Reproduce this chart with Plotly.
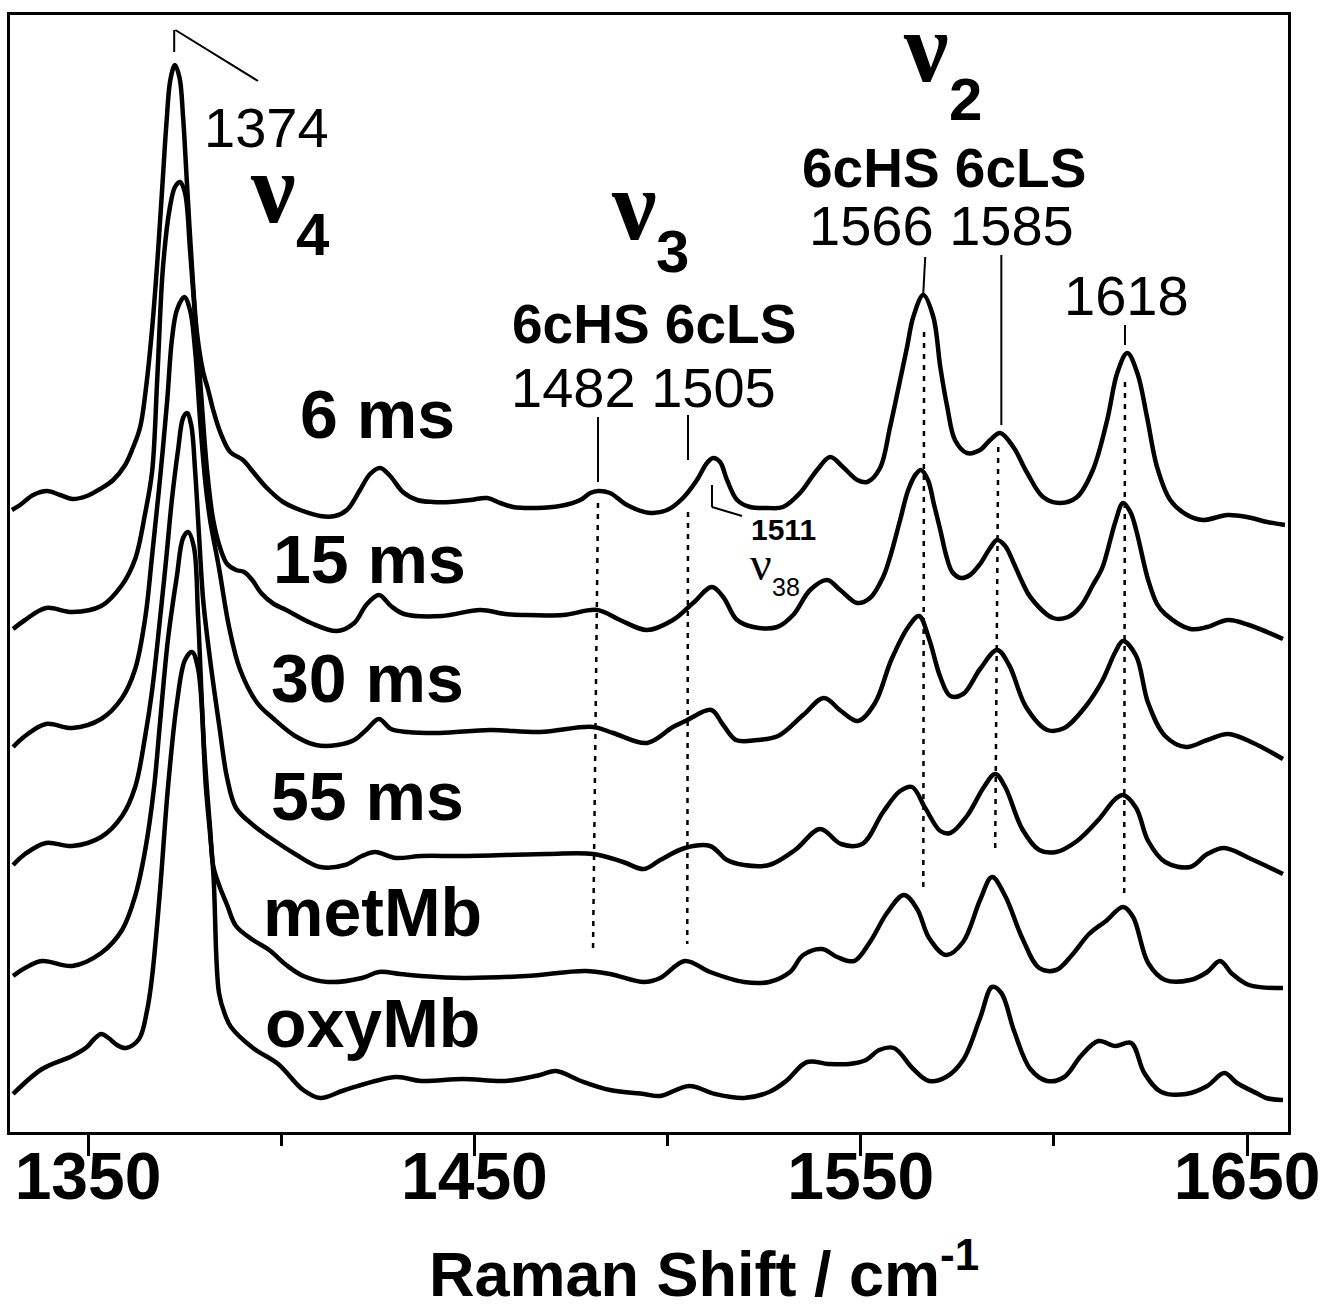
import plotly.graph_objects as go

# ---------------- data (Raman shift in cm-1, stacked intensity in arbitrary units) ----------------
wn_6ms = [1330.3, 1332.4, 1335.8, 1339.4, 1342.8, 1345.9, 1349.7, 1353.1, 1356.5, 1359.6, 1361.6, 1363.5,
          1365.0, 1366.6, 1368.0, 1369.2, 1370.3, 1371.3, 1372.5, 1373.7, 1374.6, 1375.6, 1376.9, 1378.2,
          1379.8, 1381.1, 1382.4, 1384.2, 1386.8, 1390.1, 1391.9, 1393.8, 1396.3, 1400.5, 1404.9, 1410.1,
          1413.9, 1417.0, 1420.4, 1423.0, 1425.6, 1428.2, 1431.5, 1435.2, 1439.3, 1443.7, 1448.9, 1453.3,
          1456.7, 1460.0, 1466.2, 1472.2, 1477.4, 1480.0, 1482.0, 1485.1, 1489.5, 1495.5, 1499.9, 1504.0,
          1507.6, 1510.2, 1511.8, 1513.6, 1515.4, 1518.0, 1521.4, 1525.8, 1529.9, 1534.3, 1538.7, 1542.1,
          1545.4, 1549.1, 1551.7, 1555.0, 1557.6, 1560.2, 1562.0, 1563.6, 1566.2, 1568.8, 1570.6, 1572.4,
          1574.4, 1577.5, 1580.9, 1583.5, 1586.1, 1589.5, 1593.1, 1597.2, 1601.6, 1606.0, 1610.1, 1613.8,
          1616.4, 1619.0, 1621.6, 1624.1, 1626.7, 1630.1, 1634.5, 1638.6, 1644.9, 1650.0, 1655.2, 1659.8]
int_6ms = [628, 633, 643, 647, 643, 639, 642, 649, 658, 673, 690, 711,
           750, 810, 880, 950, 1015, 1058, 1073, 1060, 1021, 955, 871, 805,
           766, 748, 728, 706, 686, 678, 670, 661, 650, 636, 628, 622,
           622, 628, 648, 664, 670, 662, 646, 638, 636, 636, 638, 640,
           635, 631, 630, 632, 638, 645, 647, 645, 633, 625, 628, 640,
           658, 675, 680, 676, 658, 638, 631, 630, 631, 645, 668, 681,
           671, 658, 656, 670, 711, 758, 791, 821, 843, 821, 771, 731,
           698, 685, 688, 698, 705, 691, 665, 641, 635, 641, 668, 718,
           765, 785, 765, 721, 671, 638, 623, 618, 623, 621, 616, 613]

wn_15ms = [1330.6, 1333.7, 1339.1, 1345.9, 1353.4, 1358.8, 1362.2, 1364.8, 1366.6, 1367.9, 1369.4, 1371.2,
           1372.5, 1373.8, 1375.1, 1376.4, 1377.7, 1379.0, 1380.8, 1382.4, 1384.2, 1386.0, 1388.3, 1390.4,
           1392.5, 1394.8, 1398.1, 1401.3, 1407.7, 1414.5, 1418.9, 1422.0, 1425.3, 1428.4, 1431.8, 1441.6,
           1451.5, 1458.0, 1462.6, 1473.0, 1481.8, 1487.7, 1494.7, 1501.4, 1506.6, 1511.5, 1514.4, 1518.0,
           1522.2, 1528.4, 1532.5, 1536.9, 1541.3, 1544.7, 1549.1, 1552.4, 1555.8, 1557.6, 1560.2, 1562.3,
           1564.3, 1565.6, 1567.4, 1569.0, 1570.6, 1572.1, 1573.7, 1576.0, 1578.3, 1580.9, 1583.5, 1585.3,
           1587.4, 1589.7, 1591.8, 1593.9, 1599.8, 1603.7, 1607.0, 1610.1, 1612.5, 1614.6, 1615.9, 1617.9,
           1619.8, 1621.3, 1624.4, 1626.7, 1628.8, 1635.3, 1639.7, 1645.1, 1650.5, 1659.3]
int_15ms = [509, 518, 530, 526, 532, 553, 579, 625, 667, 758, 871, 931,
            951, 956, 945, 888, 821, 758, 668, 618, 590, 574, 568, 566,
            558, 545, 534, 528, 515, 507, 515, 533, 543, 532, 524, 522,
            528, 524, 523, 523, 528, 518, 508, 518, 535, 551, 541, 518,
            511, 511, 523, 548, 558, 548, 535, 540, 561, 581, 618, 648,
            664, 668, 658, 633, 608, 583, 566, 560, 563, 574, 590, 598,
            592, 574, 556, 541, 520, 521, 532, 553, 570, 598, 616, 635,
            626, 608, 558, 534, 524, 509, 511, 518, 513, 499]

wn_30ms = [1330.6, 1333.7, 1339.1, 1345.9, 1353.4, 1358.8, 1362.2, 1364.8, 1366.6, 1368.6, 1370.5, 1371.7,
           1373.0, 1374.9, 1376.4, 1377.7, 1379.0, 1380.3, 1381.6, 1383.9, 1386.5, 1389.3, 1393.8, 1398.1,
           1403.6, 1409.0, 1414.5, 1418.9, 1422.0, 1425.3, 1428.4, 1432.8, 1441.1, 1454.1, 1467.0, 1480.7,
           1485.9, 1494.7, 1501.4, 1505.1, 1511.3, 1514.4, 1517.7, 1523.2, 1528.6, 1535.1, 1540.5, 1544.9,
           1549.3, 1553.7, 1557.9, 1562.3, 1565.1, 1567.7, 1570.6, 1573.2, 1576.5, 1580.9, 1585.3, 1588.4,
           1592.8, 1598.3, 1602.7, 1608.1, 1612.5, 1615.9, 1617.9, 1621.3, 1624.4, 1628.8, 1634.2, 1639.7,
           1645.1, 1651.6, 1659.3]
int_30ms = [391, 402, 414, 410, 419, 440, 469, 520, 583, 658, 738, 798,
            828, 841, 828, 788, 718, 658, 618, 570, 511, 469, 435, 419,
            402, 393, 393, 398, 408, 419, 409, 406, 405, 408, 406, 411,
            405, 395, 411, 418, 428, 413, 398, 398, 402, 423, 440, 427,
            417, 435, 478, 511, 522, 499, 461, 442, 444, 469, 488, 473,
            431, 408, 410, 431, 457, 486, 497, 482, 435, 402, 391, 398,
            404, 395, 379]

wn_55ms = [1330.6, 1333.7, 1339.1, 1345.9, 1353.4, 1358.8, 1362.2, 1364.8, 1366.6, 1368.6, 1370.2, 1371.7,
           1373.3, 1374.6, 1375.6, 1376.7, 1377.7, 1378.8, 1379.8, 1381.6, 1383.9, 1386.0, 1388.3, 1392.7,
           1396.9, 1403.6, 1410.1, 1416.5, 1420.9, 1424.3, 1429.7, 1436.2, 1447.1, 1468.8, 1480.7, 1488.5,
           1493.9, 1498.1, 1504.5, 1511.0, 1515.4, 1519.8, 1526.3, 1533.0, 1539.5, 1544.9, 1550.4, 1555.8,
           1560.2, 1563.3, 1566.7, 1570.6, 1573.2, 1577.5, 1581.9, 1584.8, 1587.4, 1591.8, 1596.2, 1600.6,
           1606.0, 1611.5, 1615.9, 1617.9, 1621.3, 1624.4, 1628.8, 1635.3, 1639.7, 1644.1, 1650.5, 1659.3]
int_55ms = [273, 284, 295, 292, 301, 322, 351, 402, 448, 518, 578, 638,
            688, 720, 725, 713, 668, 598, 538, 478, 414, 360, 330, 313,
            301, 284, 271, 273, 282, 286, 280, 282, 282, 284, 284, 276,
            269, 278, 290, 292, 278, 273, 273, 288, 309, 294, 294, 326,
            347, 351, 330, 307, 305, 322, 351, 364, 351, 309, 288, 286,
            297, 318, 339, 343, 330, 297, 276, 271, 284, 290, 280, 264]

wn_met = [1330.6, 1333.7, 1338.1, 1345.9, 1353.4, 1358.8, 1362.2, 1364.8, 1367.1, 1368.6, 1370.7, 1373.0,
          1374.6, 1375.9, 1377.4, 1378.5, 1380.0, 1381.6, 1382.4, 1383.9, 1386.0, 1388.3, 1392.7, 1396.9,
          1401.3, 1405.7, 1412.1, 1420.9, 1425.3, 1430.8, 1436.2, 1447.1, 1463.4, 1478.7, 1485.1, 1493.9,
          1498.1, 1504.5, 1511.0, 1519.8, 1526.3, 1531.7, 1535.1, 1540.0, 1543.9, 1548.3, 1552.4, 1556.8,
          1561.2, 1564.6, 1567.7, 1572.1, 1576.5, 1580.9, 1584.0, 1587.4, 1591.8, 1596.2, 1600.6, 1604.7,
          1609.1, 1613.5, 1617.9, 1620.5, 1624.4, 1628.8, 1635.3, 1639.7, 1643.0, 1646.2, 1650.5, 1659.3]
int_met = [162, 170, 177, 172, 185, 208, 242, 288, 351, 414, 499, 562,
           600, 606, 591, 520, 393, 309, 272, 253, 233, 212, 198, 188,
           173, 162, 156, 160, 166, 164, 162, 160, 162, 167, 164, 156,
           160, 177, 166, 156, 156, 166, 183, 189, 181, 177, 196, 225,
           243, 229, 200, 183, 196, 238, 261, 242, 200, 170, 168, 183,
           204, 217, 231, 221, 175, 158, 158, 166, 177, 164, 153, 150]

wn_oxy = [1330.6, 1338.1, 1345.9, 1349.7, 1351.6, 1353.4, 1355.3, 1357.5, 1359.8, 1363.2, 1365.3, 1366.6,
          1368.6, 1370.7, 1373.0, 1375.1, 1376.9, 1378.5, 1380.5, 1382.4, 1383.9, 1385.5, 1387.0, 1392.7,
          1399.2, 1405.7, 1410.1, 1416.5, 1429.7, 1436.2, 1447.1, 1458.0, 1467.0, 1471.1, 1477.6, 1485.1,
          1493.9, 1498.1, 1505.6, 1512.3, 1519.8, 1526.3, 1530.7, 1536.1, 1541.6, 1547.0, 1551.4, 1554.8,
          1558.6, 1563.6, 1567.7, 1572.1, 1576.5, 1580.9, 1584.0, 1586.4, 1589.7, 1593.9, 1598.3, 1602.7,
          1607.0, 1611.5, 1615.9, 1620.0, 1623.4, 1627.8, 1634.2, 1639.7, 1644.1, 1647.4, 1652.9, 1654.9,
          1659.3]
int_oxy = [44, 69, 82, 91, 99, 104, 100, 93, 90, 99, 128, 162,
           246, 351, 435, 478, 486, 469, 351, 267, 145, 123, 111, 90,
           74, 48, 40, 48, 61, 57, 59, 57, 63, 67, 57, 48,
           44, 42, 52, 44, 40, 46, 57, 76, 74, 74, 78, 88,
           90, 69, 57, 61, 78, 120, 151, 145, 107, 69, 57, 61,
           82, 97, 92, 95, 65, 46, 44, 52, 65, 55, 44, 40,
           38]

# sample labels
sample_names = ["6 ms", "15 ms", "30 ms", "55 ms", "metMb", "oxyMb"]
sample_label_wn = [1404.4, 1397.4, 1396.9, 1396.9, 1394.8, 1395.3]
sample_label_int = [724, 579, 460, 342, 226, 115]

# x-axis ticks
major_ticks = [1350, 1450, 1550, 1650]
minor_ticks = [1400, 1500, 1600]
axis_title = "<b>Raman Shift / cm<sup>-1</sup></b>"

# band annotations
band_numbers = ["1374", "1482 1505", "1566 1585", "1618"]
band_number_wn = [1396.1, 1493.9, 1570.8, 1618.7]
band_number_int = [1011, 751, 913, 843]

spin_labels = ["6cHS 6cLS", "6cHS 6cLS"]
spin_label_wn = [1496.5, 1571.6]
spin_label_int = [814, 970]

mode_subscripts = ["4", "3", "2"]
mode_nu_wn = [1397.9, 1491.4, 1566.9]
mode_nu_int = [950, 933, 1091]
mode_sub_wn = [1408.2, 1501.4, 1577.0]
mode_sub_int = [904, 887, 1039]

# dotted guide lines: (wn_top, int_top, wn_bottom, int_bottom)
dotted_guides = [(1482.0, 635, 1480.7, 185),
                 (1505.3, 626, 1505.1, 194),
                 (1566.4, 806, 1566.2, 245),
                 (1585.6, 691, 1584.8, 285),
                 (1618.4, 756, 1618.2, 245)]

# solid label leader lines
leader_lines = [(1372.3, 1108, 1372.3, 1086),
                (1372.6, 1108, 1394.0, 1057),
                (1482.0, 721, 1482.0, 656),
                (1505.3, 723, 1505.3, 678),
                (1566.7, 881, 1566.2, 845),
                (1586.4, 883, 1586.4, 713),
                (1618.4, 813, 1618.4, 793),
                (1511.5, 653, 1511.5, 631),
                (1511.5, 631, 1519.3, 622)]

# ---------------- figure ----------------
SANS = "Liberation Sans, Arial, Helvetica, sans-serif"
SERIF = "Liberation Serif, Times New Roman, serif"

series = [(wn_6ms, int_6ms), (wn_15ms, int_15ms), (wn_30ms, int_30ms),
          (wn_55ms, int_55ms), (wn_met, int_met), (wn_oxy, int_oxy)]

fig = go.Figure()
for name, (x, y) in zip(sample_names, series):
    fig.add_trace(go.Scatter(x=x, y=y, mode="lines", name=name,
                             line=dict(color="black", width=4.5, shape="spline", smoothing=1.0),
                             showlegend=False, hoverinfo="skip"))

shapes = []
for x0, y0, x1, y1 in dotted_guides:
    shapes.append(dict(type="line", xref="x", yref="y", x0=x0, y0=y0, x1=x1, y1=y1,
                       line=dict(color="black", width=2.5, dash="5px,6px")))
for x0, y0, x1, y1 in leader_lines:
    shapes.append(dict(type="line", xref="x", yref="y", x0=x0, y0=y0, x1=x1, y1=y1,
                       line=dict(color="black", width=2)))

ann = []
for t, x, y in zip(sample_names, sample_label_wn, sample_label_int):
    ann.append(dict(x=x, y=y, text="<b>%s</b>" % t, xanchor="left", yanchor="middle",
                    font=dict(family=SANS, size=68, color="black")))
for t, x, y in zip(band_numbers, band_number_wn, band_number_int):
    ann.append(dict(x=x, y=y, text=t, xanchor="center", yanchor="middle",
                    font=dict(family=SANS, size=56, color="black")))
for t, x, y in zip(spin_labels, spin_label_wn, spin_label_int):
    ann.append(dict(x=x, y=y, text="<b>%s</b>" % t, xanchor="center", yanchor="middle",
                    font=dict(family=SANS, size=55, color="black")))
for s, xn, yn, xs, ys in zip(mode_subscripts, mode_nu_wn, mode_nu_int, mode_sub_wn, mode_sub_int):
    ann.append(dict(x=xn, y=yn, text="<b>ν</b>", xanchor="center", yanchor="middle",
                    font=dict(family=SERIF, size=100, color="black")))
    ann.append(dict(x=xs, y=ys, text="<b>%s</b>" % s, xanchor="center", yanchor="middle",
                    font=dict(family=SANS, size=60, color="black")))
# nu38 band
ann.append(dict(x=1529.9, y=609, text="<b>1511</b>", xanchor="center", yanchor="middle",
                font=dict(family=SANS, size=30, color="black")))
ann.append(dict(x=1524.2, y=575, text="ν", xanchor="center", yanchor="middle",
                font=dict(family=SERIF, size=48, color="black")))
ann.append(dict(x=1530.6, y=551, text="38", xanchor="center", yanchor="middle",
                font=dict(family=SANS, size=25, color="black")))
for a in ann:
    a.update(xref="x", yref="y", showarrow=False)
# axis title placed as paper annotation (it sits right of the plot centre in the original)
ann.append(dict(x=0.5434, y=-0.1235, xref="paper", yref="paper", text=axis_title, showarrow=False,
                xanchor="center", yanchor="middle", font=dict(family=SANS, size=63, color="black")))

fig.update_layout(
    width=1322, height=1309,
    margin=dict(l=10, r=34, t=15, b=177),
    plot_bgcolor="white", paper_bgcolor="white",
    shapes=shapes, annotations=ann,
    xaxis=dict(range=[1329.8, 1660.6], showline=True, mirror=True, linewidth=3, linecolor="black",
               showgrid=False, zeroline=False, ticks="outside", tickvals=major_ticks,
               ticktext=[str(v) for v in major_ticks], ticklen=21, tickwidth=3, tickcolor="black",
               ticklabelstandoff=-36, automargin=False,
               tickfont=dict(family=SANS, size=66, color="black", weight="bold"),
               minor=dict(tickvals=minor_ticks, ticks="outside", ticklen=11, tickwidth=3, tickcolor="black",
                          showgrid=False)),
    yaxis=dict(range=[6, 1123], showline=True, mirror=True, linewidth=3, linecolor="black",
               showgrid=False, zeroline=False, showticklabels=False, ticks="", automargin=False),
)

fig.write_html("out.html", config={"displayModeBar": False},
               post_script="document.body.style.margin='0';")
